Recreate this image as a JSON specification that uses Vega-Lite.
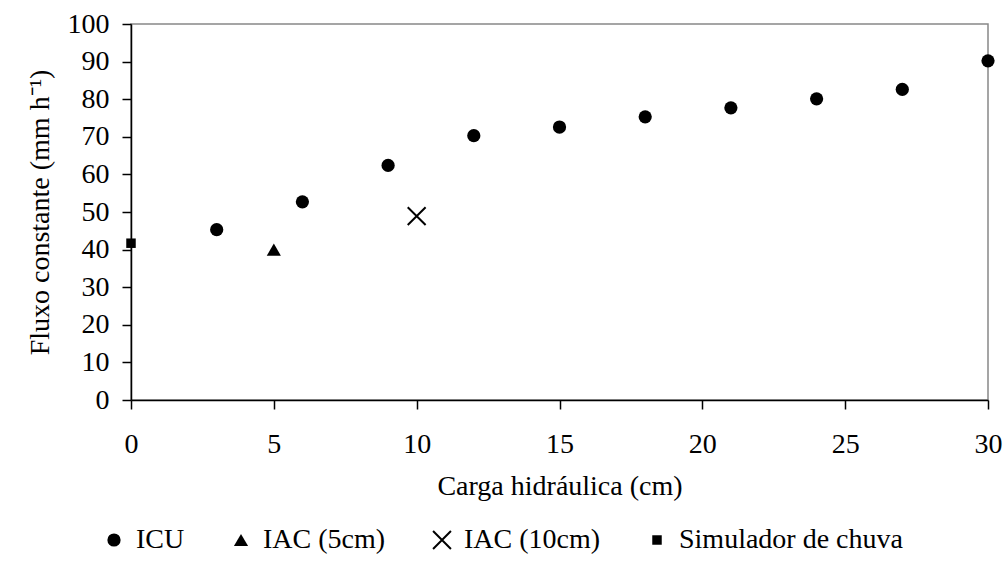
{
  "$schema": "https://vega.github.io/schema/vega-lite/v6.json",
  "width": 857,
  "height": 376,
  "autosize": {"type": "none"},
  "padding": {"left": 131, "top": 24, "right": 18, "bottom": 163},
  "background": "white",
  "config": {
    "font": "Liberation Serif",
    "view": {"stroke": "#888888", "strokeWidth": 1.5},
    "axis": {
      "domainColor": "black",
      "domainWidth": 1.5,
      "tickColor": "black",
      "tickWidth": 1.5,
      "tickSize": 9,
      "grid": false,
      "labelFont": "Liberation Serif",
      "labelFontSize": 28,
      "labelColor": "black",
      "titleFont": "Liberation Serif",
      "titleFontSize": 28,
      "titleFontWeight": "normal",
      "titleColor": "black"
    },
    "legend": {
      "labelFont": "Liberation Serif",
      "labelFontSize": 28,
      "labelColor": "black",
      "labelLimit": 500
    }
  },
  "data": {
    "values": [
      {"series": "ICU", "carga": 3, "fluxo": 45.3},
      {"series": "ICU", "carga": 6, "fluxo": 52.7},
      {"series": "ICU", "carga": 9, "fluxo": 62.4},
      {"series": "ICU", "carga": 12, "fluxo": 70.3},
      {"series": "ICU", "carga": 15, "fluxo": 72.6},
      {"series": "ICU", "carga": 18, "fluxo": 75.3},
      {"series": "ICU", "carga": 21, "fluxo": 77.7},
      {"series": "ICU", "carga": 24, "fluxo": 80.1},
      {"series": "ICU", "carga": 27, "fluxo": 82.6},
      {"series": "ICU", "carga": 30, "fluxo": 90.2},
      {"series": "IAC (5cm)", "carga": 5, "fluxo": 40.0},
      {"series": "IAC (10cm)", "carga": 10, "fluxo": 48.9},
      {"series": "Simulador de chuva", "carga": 0, "fluxo": 41.7}
    ]
  },
  "mark": {"type": "point", "filled": true, "fill": "black", "stroke": "black", "opacity": 1, "clip": false},
  "encoding": {
    "x": {
      "field": "carga",
      "type": "quantitative",
      "scale": {"domain": [0, 30], "nice": false, "zero": true},
      "axis": {
        "title": "Carga hidráulica (cm)",
        "values": [0, 5, 10, 15, 20, 25, 30],
        "labelPadding": 21,
        "titlePadding": 14,
        "labelFlush": false
      }
    },
    "y": {
      "field": "fluxo",
      "type": "quantitative",
      "scale": {"domain": [0, 100], "nice": false},
      "axis": {
        "title": "Fluxo constante (mm h⁻¹)",
        "values": [0, 10, 20, 30, 40, 50, 60, 70, 80, 90, 100],
        "labelPadding": 13,
        "titlePadding": 13,
        "labelFlush": false
      }
    },
    "shape": {
      "field": "series",
      "type": "nominal",
      "scale": {
        "domain": ["ICU", "IAC (5cm)", "IAC (10cm)", "Simulador de chuva"],
        "range": ["circle", "triangle-up", "M-1,-1L1,1M-1,1L1,-1", "square"]
      },
      "legend": {
        "title": null,
        "orient": "none",
        "direction": "horizontal",
        "legendX": -31,
        "legendY": 502,
        "columnPadding": 42,
        "labelOffset": 8,
        "encode": {
          "symbols": {
            "update": {
              "fill": {"value": "black"},
              "stroke": {"value": "black"},
              "strokeWidth": {"signal": "datum.value === 'IAC (10cm)' ? 2 : 0"},
              "size": {"signal": "datum.value === 'IAC (10cm)' ? 190 : datum.value === 'Simulador de chuva' ? 60 : datum.value === 'ICU' ? 120 : 140"}
            }
          }
        }
      }
    },
    "size": {
      "field": "series",
      "type": "nominal",
      "scale": {
        "type": "ordinal",
        "domain": ["ICU", "IAC (5cm)", "IAC (10cm)", "Simulador de chuva"],
        "range": [175, 200, 320, 90]
      }
    },
    "strokeWidth": {
      "field": "series",
      "type": "nominal",
      "scale": {
        "type": "ordinal",
        "domain": ["ICU", "IAC (5cm)", "IAC (10cm)", "Simulador de chuva"],
        "range": [0, 0, 2, 0]
      }
    }
  }
}
